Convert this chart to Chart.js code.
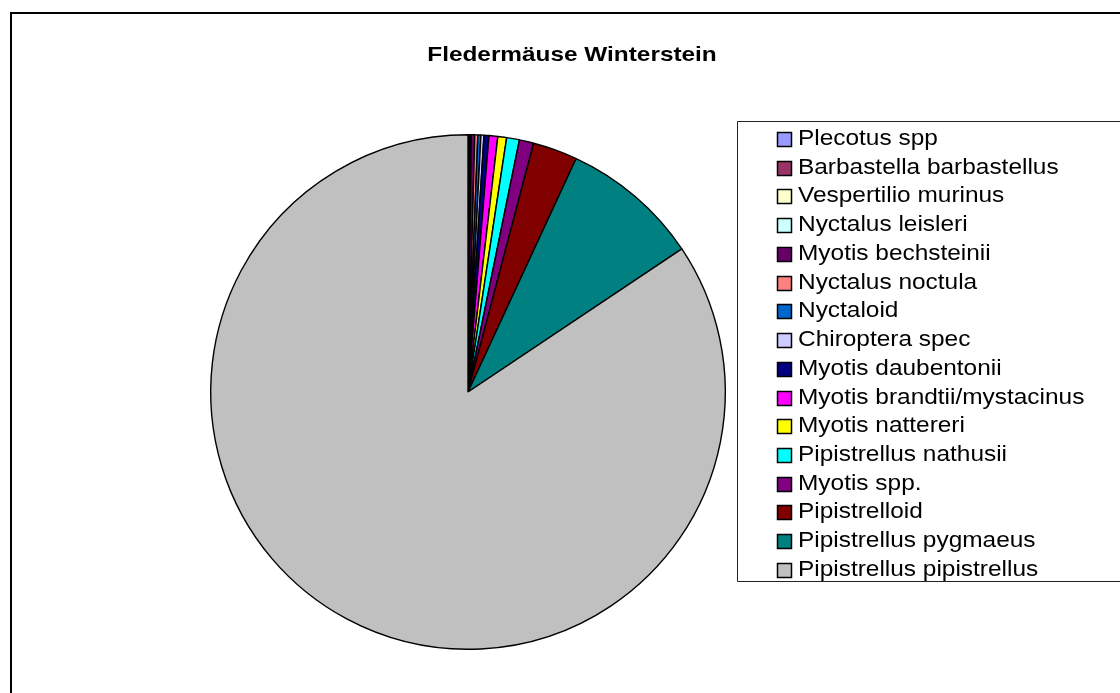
<!DOCTYPE html>
<html>
<head>
<meta charset="utf-8">
<script src="https://cdn.jsdelivr.net/npm/chart.js@4/dist/chart.umd.min.js"></script>
<style>
html,body{margin:0;padding:0;background:#fff;}
#wrap{position:relative;width:1120px;height:693px;}
</style>
</head>
<body>
<div id="wrap"><canvas id="c" width="1120" height="693"></canvas></div>
<script>
const chartTitle = "Fledermäuse Winterstein";
const categories = [
  "Plecotus spp",
  "Barbastella barbastellus",
  "Vespertilio murinus",
  "Nyctalus leisleri",
  "Myotis bechsteinii",
  "Nyctalus noctula",
  "Nyctaloid",
  "Chiroptera spec",
  "Myotis daubentonii",
  "Myotis brandtii/mystacinus",
  "Myotis nattereri",
  "Pipistrellus nathusii",
  "Myotis spp.",
  "Pipistrelloid",
  "Pipistrellus pygmaeus",
  "Pipistrellus pipistrellus"
];
const shares = [0.05, 0.05, 0.05, 0.05, 0.22, 0.19, 0.19, 0.19, 0.31, 0.55, 0.55, 0.8, 0.9, 2.8, 8.7, 84.3];
const colors = [
  "#9999FF", "#993366", "#FFFFCC", "#CCFFFF", "#660066", "#FF8080", "#0066CC", "#CCCCFF",
  "#000080", "#FF00FF", "#FFFF00", "#00FFFF", "#800080", "#800000", "#008080", "#C0C0C0"
];

function wideText(ctx, text, x, y, sx, align) {
  ctx.save();
  ctx.translate(x, y);
  ctx.scale(sx, 1);
  ctx.textAlign = align;
  ctx.fillText(text, 0, 0);
  ctx.restore();
}

const decor = {
  id: 'decor',
  beforeDraw(chart) {
    const ctx = chart.ctx;
    ctx.save();
    ctx.fillStyle = '#fff';
    ctx.fillRect(0, 0, chart.width, chart.height);
    ctx.fillStyle = '#000';
    ctx.fillRect(10, 12, 2, chart.height - 12);
    ctx.fillRect(10, 12, chart.width - 10, 2);
    ctx.restore();
  },
  afterDraw(chart) {
    const ctx = chart.ctx;
    ctx.save();
    ctx.fillStyle = '#000';
    ctx.textBaseline = 'alphabetic';
    ctx.font = 'bold 21px "Liberation Sans", Arial, sans-serif';
    wideText(ctx, chartTitle, 572, 61, 1.16, 'center');
    ctx.strokeStyle = '#222';
    ctx.lineWidth = 1;
    ctx.beginPath();
    ctx.moveTo(chart.width + 5, 121.5);
    ctx.lineTo(737.5, 121.5);
    ctx.lineTo(737.5, 581.5);
    ctx.lineTo(chart.width + 5, 581.5);
    ctx.stroke();
    const labels = chart.data.labels;
    const bg = chart.data.datasets[0].backgroundColor;
    ctx.font = '22px "Liberation Sans", Arial, sans-serif';
    for (let i = 0; i < labels.length; i++) {
      const base = Math.round(145 + i * 28.73);
      ctx.fillStyle = bg[i];
      ctx.fillRect(777, base - 12, 14, 13);
      ctx.strokeStyle = '#000';
      ctx.lineWidth = 1.5;
      ctx.strokeRect(777.5, base - 12.5, 14, 14);
      ctx.fillStyle = '#000';
      wideText(ctx, labels[i], 798, base, 1.11, 'left');
    }
    ctx.restore();
  }
};

new Chart(document.getElementById('c'), {
  type: 'pie',
  data: {
    labels: categories,
    datasets: [{
      data: shares,
      backgroundColor: colors,
      borderColor: '#000',
      borderWidth: 1.4
    }]
  },
  options: {
    responsive: false,
    animation: false,
    layout: { padding: { left: 209, top: 134, right: 393, bottom: 43 } },
    plugins: {
      legend: { display: false },
      title: { display: false },
      tooltip: { enabled: false }
    }
  },
  plugins: [decor]
});
</script>
</body>
</html>
